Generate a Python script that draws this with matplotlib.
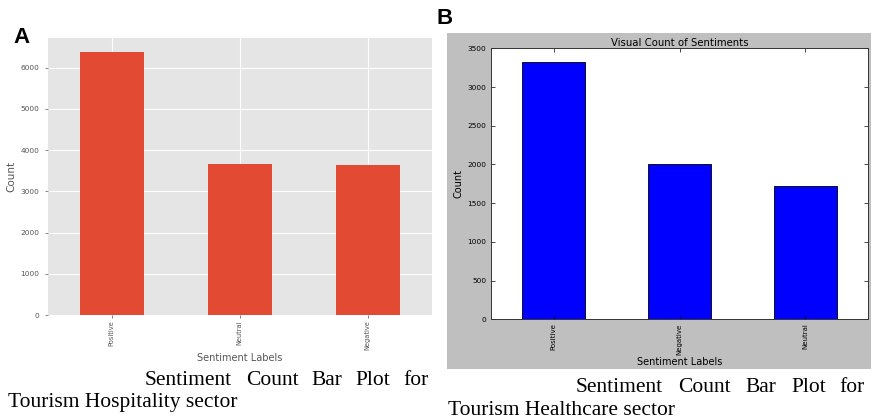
import matplotlib.pyplot as plt
from matplotlib.patches import Rectangle

# panel A data (hospitality)
labels_a = ["Positive", "Neutral", "Negative"]
counts_a = [6390, 3670, 3630]

# panel B data (healthcare)
labels_b = ["Positive", "Negative", "Neutral"]
counts_b = [3320, 2010, 1720]

caption_words = ["Sentiment", "Count", "Bar", "Plot", "for"]
caption_a2 = "Tourism Hospitality sector"
caption_b2 = "Tourism Healthcare sector"

W, H = 871, 420
fig = plt.figure(figsize=(W / 100, H / 100), dpi=100)
fig.patch.set_facecolor("white")


def px(x0, y0, x1, y1):
    # pixel box (top-left origin) -> figure fraction rect
    return [x0 / W, 1 - y1 / H, (x1 - x0) / W, (y1 - y0) / H]


# gray background of panel B
fig.patches.append(Rectangle((447 / W, 1 - 369 / H), (W - 447) / W, (369 - 33) / H,
                             transform=fig.transFigure, facecolor="#bfbfbf",
                             edgecolor="none", zorder=-5))

# ---- panel A, ggplot look
ax1 = fig.add_axes(px(47.7, 38, 431.7, 315))
ax1.set_facecolor("#e5e5e5")
ax1.set_axisbelow(True)
ax1.grid(True, color="white", linewidth=0.8)
ax1.bar(range(len(labels_a)), counts_a, width=0.5, color="#e24a33")
ax1.set_xlim(-0.5, 2.5)
ax1.set_ylim(0, 6720)
ax1.set_yticks(range(0, 7000, 1000))
ax1.set_xticks(range(len(labels_a)))
ax1.set_xticklabels(labels_a, rotation=90, fontsize=4.8, color="#555555")
ax1.tick_params(axis="y", labelsize=5.3, labelcolor="#555555")
ax1.tick_params(color="#555555", length=2.5, width=0.5)
ax1.tick_params(axis="x", pad=1.5)
for s in ax1.spines.values():
    s.set_visible(False)
ax1.set_ylabel("Count", fontsize=7.5, color="#555555", labelpad=3)
ax1.set_xlabel("Sentiment Labels", fontsize=7, color="#555555", labelpad=1.5)

# ---- panel B, classic look
ax2 = fig.add_axes(px(490.7, 48.3, 868.3, 319.3))
ax2.set_facecolor("white")
ax2.bar(range(len(labels_b)), counts_b, width=0.5, color="#0000ff",
        edgecolor="black", linewidth=0.6)
ax2.set_xlim(-0.5, 2.5)
ax2.set_ylim(0, 3500)
ax2.set_yticks(range(0, 4000, 500))
ax2.set_xticks(range(len(labels_b)))
ax2.set_xticklabels(labels_b, rotation=90, fontsize=5)
ax2.tick_params(axis="y", labelsize=5.3)
ax2.tick_params(direction="in", top=True, right=True, length=3, width=0.5, pad=3)
for s in ax2.spines.values():
    s.set_linewidth(0.7)
    s.set_color("#333333")
ax2.set_title("Visual Count of Sentiments", fontsize=7.3, pad=2)
ax2.set_ylabel("Count", fontsize=7, labelpad=3)
ax2.set_xlabel("Sentiment Labels", fontsize=7, labelpad=2)

# panel letters
fig.text(13 / W, 1 - 43 / H, "A", fontsize=16, fontweight="bold",
         family="Liberation Sans", va="baseline")
fig.text(436 / W, 1 - 24 / H, "B", fontsize=16, fontweight="bold",
         family="Liberation Sans", va="baseline")

# justified captions, word by word (centred on where each word sits)
serif = dict(fontsize=15.5, family="Liberation Serif", va="baseline")
for word, x in zip(caption_words, [188.5, 272, 327, 373, 415.5]):
    fig.text(x / W, 1 - 385 / H, word, ha="center", **serif)
fig.text(8 / W, 1 - 407 / H, caption_a2, ha="left", **serif)
for word, x in zip(caption_words, [619, 704, 760.5, 808.5, 852]):
    fig.text(x / W, 1 - 392 / H, word, ha="center", **serif)
fig.text(448 / W, 1 - 415 / H, caption_b2, ha="left", **serif)

fig.savefig("out.png", dpi=100)
